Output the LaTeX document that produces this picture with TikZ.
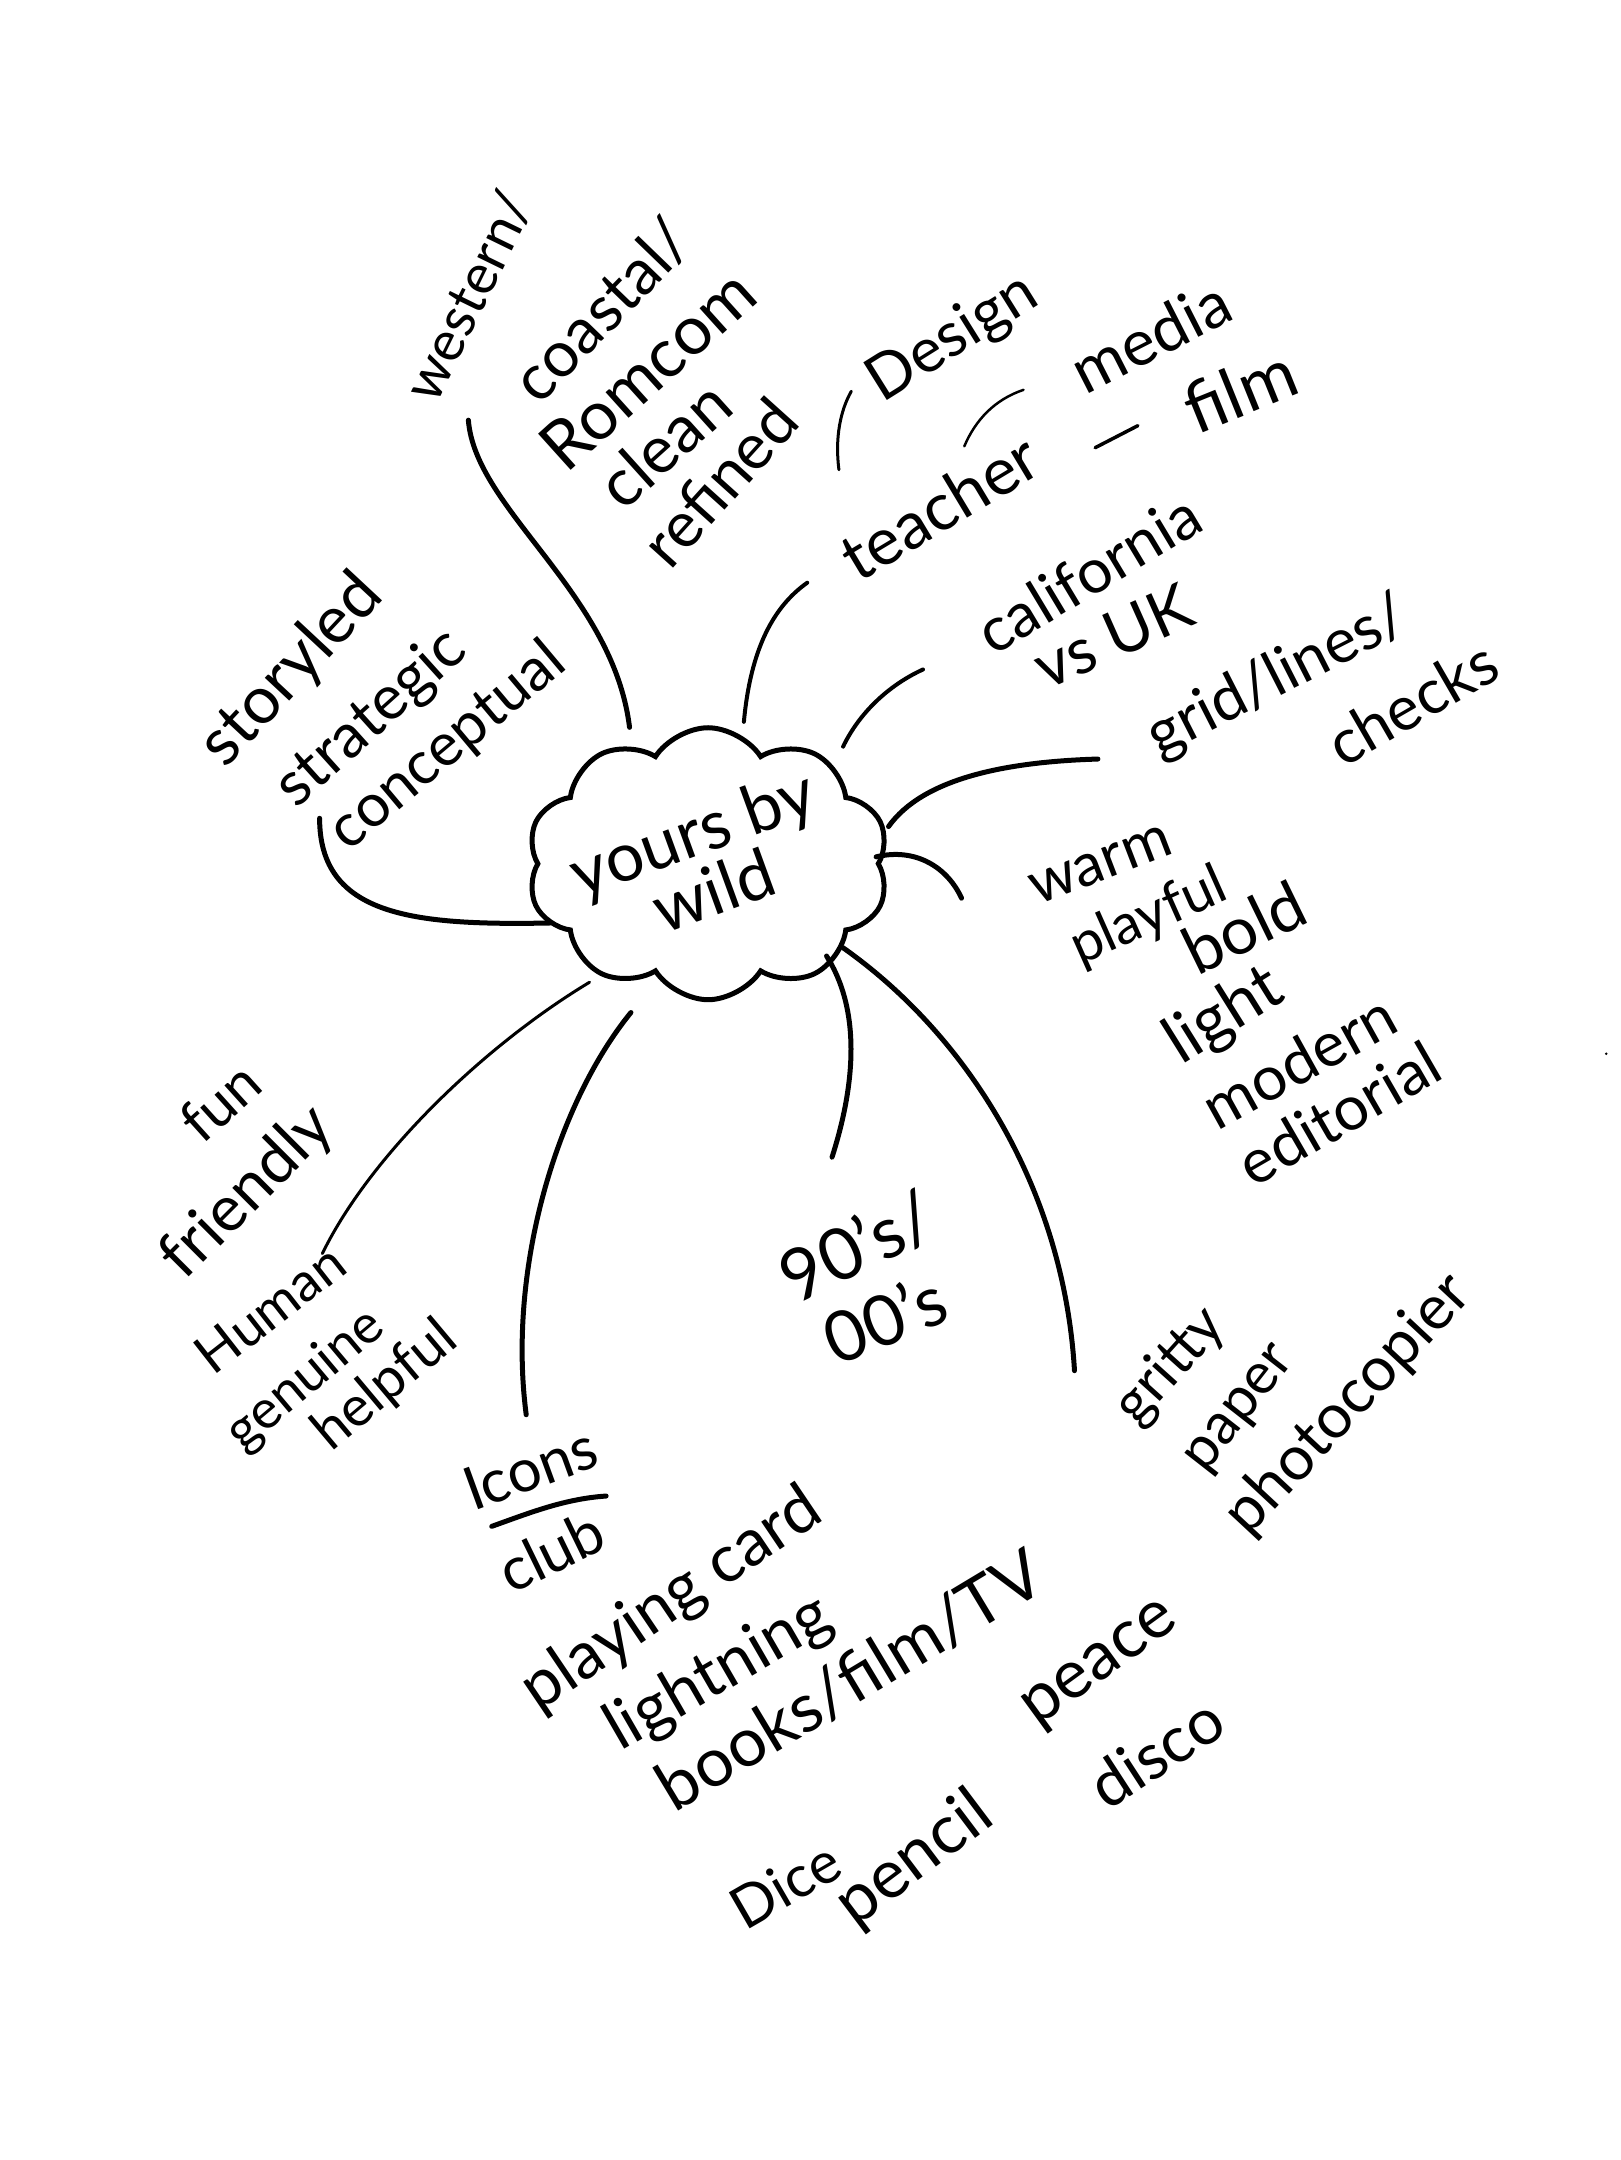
\documentclass[tikz,border=0pt]{standalone}
\usepackage{fontspec}
\setmainfont{Lato}
\usetikzlibrary{shapes.symbols}
\newcommand\hwsize[1]{\fontsize{#1}{#1}\selectfont}
\tikzset{
  branch/.style={line width=5pt, line cap=round, line join=round},
  thinbranch/.style={line width=3pt, line cap=round},
  hw/.style={inner sep=0pt, font=\hwsize{64}, anchor=center},
}
\begin{document}
\begin{tikzpicture}[x=1.3776pt,y=-1.3776pt]
\useasboundingbox (0,0) rectangle (1176,1568);
\fill[white] (0,0) rectangle (1176,1568);

% central cloud
\node[cloud, draw, line width=5pt, cloud puffs=10, cloud puff arc=115, aspect=1.3,
      minimum width=362pt, minimum height=272pt] (c) at (514,627) {};
\node[hw, rotate=20, align=center, font=\hwsize{68}] (ct) at (510,625) {yours by\\[-6pt]wild};

% branch end coordinates
\coordinate (b1s) at (457,528); \coordinate (b1e) at (340,305);
\coordinate (b2s) at (540,524); \coordinate (b2e) at (586,423);
\coordinate (b3s) at (612,542); \coordinate (b3e) at (670,486);
\coordinate (b4s) at (645,600); \coordinate (b4e) at (797,551);
\coordinate (b5s) at (636,622); \coordinate (b5e) at (698,652);
\coordinate (b6s) at (612,688); \coordinate (b6e) at (780,995);
\coordinate (b7s) at (600,694); \coordinate (b7e) at (604,840);
\coordinate (b8s) at (458,735); \coordinate (b8e) at (382,1027);
\coordinate (b9s) at (428,713); \coordinate (b9e) at (234,910);
\coordinate (b10s) at (400,670); \coordinate (b10e) at (232,594);

\draw[branch] (b1s) .. controls (445,430) and (345,370) .. (b1e);
\draw[branch, line width=4pt] (b2s) .. controls (545,470) and (562,440) .. (b2e);
\draw[branch, line width=4pt] (b3s) .. controls (625,515) and (648,496) .. (b3e);
\draw[branch] (b4s) .. controls (670,565) and (730,553) .. (b4e);
\draw[branch] (b5s) .. controls (665,615) and (688,630) .. (b5e);
\draw[branch] (b6s) .. controls (700,750) and (772,860) .. (b6e);
\draw[branch] (b7s) .. controls (626,735) and (620,790) .. (b7e);
\draw[branch] (b8s) .. controls (405,800) and (368,920) .. (b8e);
\draw[thinbranch] (b9s) .. controls (350,760) and (268,840) .. (b9e);
\draw[branch] (b10s) .. controls (300,672) and (232,665) .. (b10e);

% top-left cluster
\node[hw, rotate=64, font=\hwsize{56}] (t1) at (340,215) {western/};
\node[hw, rotate=46, font=\hwsize{64}] (t2) at (437,225) {coastal/};
\node[hw, rotate=42, font=\hwsize{68}] (t3) at (470,268) {Romcom};
\node[hw, rotate=42, font=\hwsize{66}] (t4) at (482,322) {clean};
\node[hw, rotate=48, font=\hwsize{64}] (t5) at (522,350) {refined};

% teacher cluster
\node[hw, rotate=31, font=\hwsize{66}] (teach) at (682,368) {teacher};
\node[hw, rotate=32, font=\hwsize{62}] (design) at (692,246) {Design};
\node[hw, rotate=27, font=\hwsize{64}] (media) at (835,244) {media};
\node[hw, rotate=22, font=\hwsize{70}] (film) at (900,283) {film};
\coordinate (d1) at (609,341); \coordinate (d2) at (618,284);
\coordinate (m1) at (700,324); \coordinate (m2) at (743,283);
\coordinate (f1) at (795,325); \coordinate (f2) at (826,309);
\draw[line width=3pt, line cap=round] (d1) .. controls (606,318) and (610,298) .. (d2);
\draw[line width=2.5pt, line cap=round] (m1) .. controls (708,305) and (722,290) .. (m2);
\draw[line width=3.5pt, line cap=round] (f1) -- (f2);

% california
\node[hw, rotate=31, font=\hwsize{62}] (cal) at (790,416) {california};
\node[hw, rotate=24, font=\hwsize{64}] (vs) at (808,462) {vs UK};

% grid
\node[hw, rotate=27, font=\hwsize{62}] (grid) at (928,492) {grid/lines/};
\node[hw, rotate=30, font=\hwsize{62}] (checks) at (1025,510) {checks};

% warm cluster
\node[hw, rotate=21, font=\hwsize{60}] (w1) at (799,628) {warm};
\node[hw, rotate=24, font=\hwsize{56}] (w2) at (834,666) {playful};
\node[hw, rotate=26, font=\hwsize{66}] (w3) at (903,673) {bold};
\node[hw, rotate=32, font=\hwsize{66}] (w4) at (889,738) {light};
\node[hw, rotate=29, font=\hwsize{62}] (w5) at (943,770) {modern};
\node[hw, rotate=30, font=\hwsize{62}] (w6) at (972,808) {editorial};

% storyled cluster
\node[hw, rotate=47, font=\hwsize{66}] (s1) at (212,487) {storyled};
\node[hw, rotate=42, font=\hwsize{62}] (s2) at (270,522) {strategic};
\node[hw, rotate=40, font=\hwsize{60}] (s3) at (325,542) {conceptual};

% fun friendly
\node[hw, rotate=42, font=\hwsize{58}] (f1n) at (160,800) {fun};
\node[hw, rotate=45, font=\hwsize{64}] (f2n) at (180,866) {friendly};

% human
\node[hw, rotate=38, font=\hwsize{54}] (h1) at (196,950) {Human};
\node[hw, rotate=40, font=\hwsize{54}] (h2) at (222,1002) {genuine};
\node[hw, rotate=40, font=\hwsize{56}] (h3) at (280,1006) {helpful};

% 90s
\node[hw, rotate=26, font=\hwsize{72}] (n1) at (622,905) {90's/};
\node[hw, rotate=22, font=\hwsize{70}] (n2) at (642,957) {00's};

% gritty
\node[hw, rotate=48, font=\hwsize{58}] (g1) at (850,992) {gritty};
\node[hw, rotate=52, font=\hwsize{58}] (g2) at (902,1024) {paper};
\node[hw, rotate=47, font=\hwsize{62}] (g3) at (979,1020) {photocopier};

% icons
\node[hw, rotate=20, font=\hwsize{60}] (ic) at (385,1066) {Icons};
\coordinate (u1) at (357,1108); \coordinate (u2) at (440,1086);
\draw[line width=5pt, line cap=round] (u1) .. controls (385,1098) and (410,1088) .. (u2);
\node[hw, rotate=26, font=\hwsize{60}] (i1) at (400,1126) {club};
\node[hw, rotate=34, font=\hwsize{66}] (i2) at (488,1162) {playing card};
\node[hw, rotate=30, font=\hwsize{66}] (i3) at (522,1215) {lightning};
\node[hw, rotate=31, font=\hwsize{68}] (i4) at (617,1220) {books/film/TV};
\node[hw, rotate=36, font=\hwsize{68}] (i5) at (800,1210) {peace};
\node[hw, rotate=33, font=\hwsize{64}] (i6) at (839,1272) {disco};
\node[hw, rotate=30, font=\hwsize{58}] (i7) at (570,1368) {Dice};
\node[hw, rotate=37, font=\hwsize{68}] (i8) at (664,1350) {pencil};

\fill (1166,765) circle (1);
\end{tikzpicture}
\end{document}
